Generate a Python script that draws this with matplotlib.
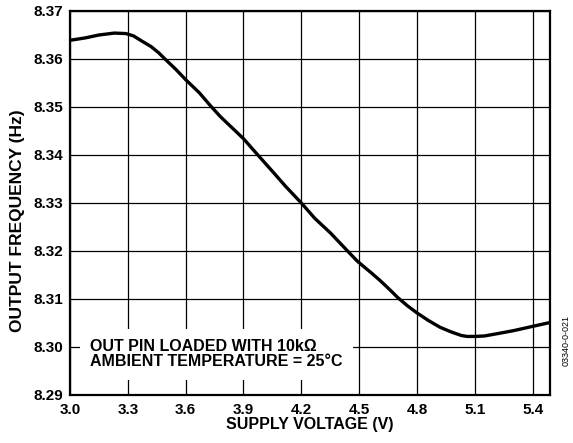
import matplotlib
matplotlib.use("Agg")
import matplotlib.pyplot as plt

plt.rcParams['font.family'] = ['Liberation Sans', 'DejaVu Sans']

voltage = [3.00, 3.08, 3.15, 3.23, 3.29, 3.33, 3.37, 3.42, 3.46, 3.49, 3.55, 3.60,
           3.67, 3.73, 3.78, 3.84, 3.90, 3.97, 4.05, 4.12, 4.20, 4.27, 4.35, 4.44,
           4.49, 4.57, 4.61, 4.66, 4.70, 4.75, 4.80, 4.86, 4.92, 4.98, 5.03, 5.06,
           5.10, 5.15, 5.22, 5.30, 5.40, 5.49]
frequency = [8.3639, 8.3644, 8.3650, 8.3654, 8.3653, 8.3648, 8.3638, 8.3626, 8.3613, 8.3601, 8.3578, 8.3557,
             8.3530, 8.3502, 8.3480, 8.3457, 8.3434, 8.3402, 8.3366, 8.3334, 8.3300, 8.3268, 8.3238, 8.3200,
             8.3179, 8.3152, 8.3138, 8.3119, 8.3103, 8.3086, 8.3071, 8.3055, 8.3041, 8.3031, 8.3024, 8.3022,
             8.3022, 8.3023, 8.3028, 8.3034, 8.3043, 8.3051]

xticks = [3.0, 3.3, 3.6, 3.9, 4.2, 4.5, 4.8, 5.1, 5.4]
yticks = [8.29, 8.30, 8.31, 8.32, 8.33, 8.34, 8.35, 8.36, 8.37]

fig = plt.figure(figsize=(5.73, 4.43), dpi=100)
ax = fig.add_axes([70/573, 1-395/443, 480/573, 384/443])

ax.plot(voltage, frequency, color='black', lw=2.4, solid_joinstyle='round',
        solid_capstyle='round', zorder=4)
ax.set_xlim(3.0, 5.49)
ax.set_ylim(8.29, 8.37)
ax.set_xticks(xticks)
ax.set_xticklabels([f"{v:.1f}" for v in xticks], fontweight='bold', fontsize=11)
ax.set_yticks(yticks)
ax.set_yticklabels([f"{v:.2f}" for v in yticks], fontweight='bold', fontsize=11)
ax.tick_params(axis='y', length=0, pad=5)
ax.tick_params(axis='x', length=0, pad=6)
ax.grid(True, color='black', lw=0.9)
for s in ax.spines.values():
    s.set_linewidth(1.6)

ax.set_xlabel('SUPPLY VOLTAGE (V)', fontweight='bold', fontsize=11.5, labelpad=0)
ax.set_ylabel('OUTPUT FREQUENCY (Hz)', fontweight='bold', fontsize=12.5)
ax.yaxis.set_label_coords(-0.094, 0.455)

ax.text(3.105, 8.2985, 'OUT PIN LOADED WITH 10k\u03a9\nAMBIENT TEMPERATURE = 25\u00b0C',
        fontweight='bold', fontsize=11.5, va='center', ha='left', linespacing=1.05,
        bbox=dict(facecolor='white', edgecolor='none', boxstyle='square,pad=0.65'), zorder=5)

fig.text(566/573, 1-340/443, '03340-0-021', rotation=90, fontsize=6.5, ha='center', va='center')

fig.savefig('out.png', dpi=100)
